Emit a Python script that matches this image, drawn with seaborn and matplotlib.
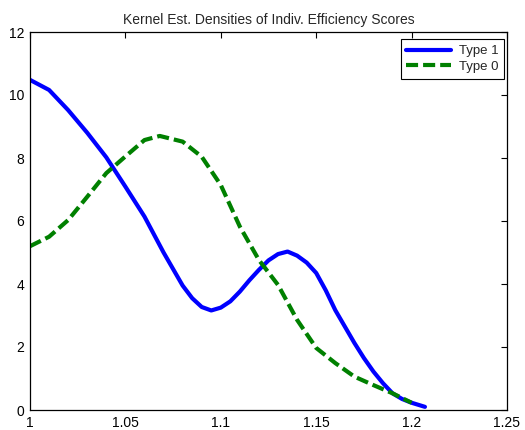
import matplotlib
matplotlib.use("Agg")
import matplotlib.pyplot as plt
import seaborn as sns
import pandas as pd

x_type1 = [1.00, 1.01, 1.02, 1.03, 1.04, 1.05, 1.06, 1.07, 1.08, 1.085, 1.09, 1.095,
           1.10, 1.105, 1.11, 1.115, 1.12, 1.125, 1.13, 1.135, 1.14, 1.145, 1.15,
           1.155, 1.16, 1.165, 1.17, 1.175, 1.18, 1.185, 1.19, 1.195, 1.20, 1.207]
y_type1 = [10.48, 10.16, 9.52, 8.8, 8.02, 7.09, 6.14, 5.0, 3.95, 3.55, 3.27, 3.16,
           3.25, 3.45, 3.76, 4.12, 4.45, 4.75, 4.95, 5.03, 4.9, 4.68, 4.35,
           3.8, 3.17, 2.65, 2.13, 1.65, 1.22, 0.85, 0.53, 0.35, 0.23, 0.1]

x_type0 = [1.00, 1.01, 1.02, 1.03, 1.04, 1.05, 1.06, 1.068, 1.08, 1.09, 1.10,
           1.11, 1.12, 1.13, 1.14, 1.15, 1.16, 1.17, 1.18, 1.19, 1.20]
y_type0 = [5.2, 5.5, 6.03, 6.77, 7.52, 8.05, 8.57, 8.7, 8.52, 8.04, 7.14,
           5.82, 4.76, 3.97, 2.86, 1.97, 1.49, 1.06, 0.79, 0.53, 0.23]

labels = ["Type 1", "Type 0"]
title = "Kernel Est. Densities of Indiv. Efficiency Scores"
x_ticks = [1, 1.05, 1.1, 1.15, 1.2, 1.25]
x_tick_labels = ["1", "1.05", "1.1", "1.15", "1.2", "1.25"]
y_ticks = [0, 2, 4, 6, 8, 10, 12]

sns.set_style("white")
plt.rcParams["font.family"] = ["Liberation Sans", "DejaVu Sans"]

df = pd.concat([
    pd.DataFrame({"x": x_type1, "y": y_type1, "type": labels[0]}),
    pd.DataFrame({"x": x_type0, "y": y_type0, "type": labels[1]}),
])

fig = plt.figure(figsize=(5.25, 4.3), dpi=100)
ax = fig.add_axes([30 / 525, 20 / 430, 477 / 525, 378 / 430])

sns.lineplot(data=df, x="x", y="y", hue="type", style="type",
             palette={labels[0]: "#0000ff", labels[1]: "#008000"},
             dashes={labels[0]: "", labels[1]: (2.9, 1.2)},
             linewidth=3, sort=False, estimator=None, ax=ax)

ax.set_xlim(1, 1.25)
ax.set_ylim(0, 12)
ax.set_xticks(x_ticks)
ax.set_xticklabels(x_tick_labels)
ax.set_yticks(y_ticks)
ax.set_xlabel("")
ax.set_ylabel("")
ax.set_title(title, fontsize=10, pad=6)
ax.tick_params(direction="in", length=4, width=0.8, top=True, right=True,
               labelsize=10, colors="black", pad=4)
for s in ax.spines.values():
    s.set_color("black")
    s.set_linewidth(0.9)

leg = ax.legend(loc="upper right", bbox_to_anchor=(0.994, 0.981),
                fontsize=9.5, frameon=True, fancybox=False,
                edgecolor="black", framealpha=1, handlelength=3.4,
                handletextpad=0.55, borderaxespad=0, labelspacing=0.25,
                borderpad=0.45)
leg.get_frame().set_linewidth(0.8)

fig.savefig("out.png", dpi=100)
